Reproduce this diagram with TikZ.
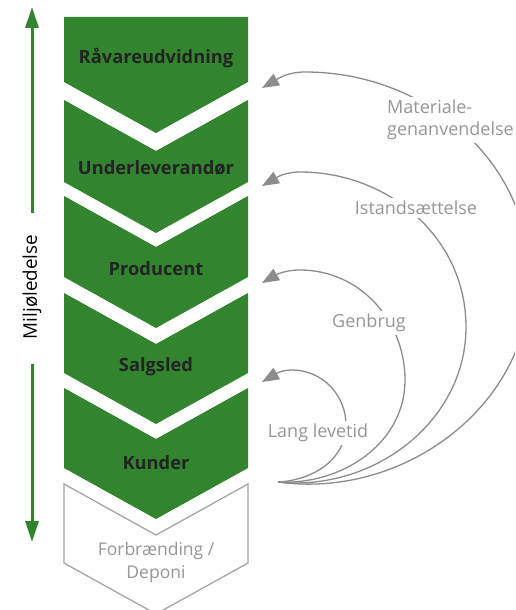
\documentclass[tikz,border=0pt]{standalone}
\usepackage{fontspec}
\setmainfont{Open Sans}
\usetikzlibrary{arrows.meta}
\definecolor{chgreen}{RGB}{50,132,46}
\definecolor{curvegray}{RGB}{140,140,140}
\definecolor{labelgray}{RGB}{150,150,150}
\definecolor{outlinegray}{RGB}{165,165,165}
\definecolor{boxtext}{RGB}{35,35,35}
\begin{document}
\begin{tikzpicture}[x=1pt,y=-1pt,
  chev/.style={fill=chgreen},
  chevout/.style={draw=outlinegray,line width=1.3pt,fill=white},
  boxlabel/.style={font=\fontsize{18.3}{22}\selectfont\bfseries,text=boxtext},
  looplabel/.style={font=\fontsize{18}{22}\selectfont,text=labelgray,fill=white,inner sep=3pt},
  loopline/.style={draw=curvegray,line width=1.3pt,-{Triangle[length=17pt,width=13pt]}},
  axis/.style={draw=chgreen,line width=3pt,-{Triangle[length=21pt,width=13pt]}}
]
\clip (0,0) rectangle (515,610);
\fill[white] (0,0) rectangle (515,610);
% chevrons
\path[chev] (64,17) -- (248,17) -- (248,82) -- (156,133) -- (64,82) -- cycle;
\path[chev] (64,100) -- (156,151) -- (248,100) -- (248,182) -- (156,233) -- (64,182) -- cycle;
\path[chev] (64,196) -- (156,247) -- (248,196) -- (248,277) -- (156,328) -- (64,277) -- cycle;
\path[chev] (64,293) -- (156,344) -- (248,293) -- (248,373) -- (156,424) -- (64,373) -- cycle;
\path[chev] (64,388) -- (156,439) -- (248,388) -- (248,468) -- (156,519) -- (64,468) -- cycle;
\path[chevout] (64,484) -- (156,535) -- (248,484) -- (248,563) -- (156,614) -- (64,563) -- cycle;
% labels
\node[boxlabel] (raw) at (156,58) {Råvareudvidning};
\node[boxlabel] (sub) at (156,168) {Underleverandør};
\node[boxlabel] (prod) at (156,269) {Producent};
\node[boxlabel] (sales) at (156,367) {Salgsled};
\node[boxlabel] (cust) at (156,463) {Kunder};
\node[font=\fontsize{17.5}{23}\selectfont,text=labelgray,align=center] (waste) at (156,562) {Forbrænding /\\Deponi};
% left axis
\node[rotate=90,font=\fontsize{18.8}{22}\selectfont,text=black] (env) at (32,287) {Miljøledelse};
\coordinate (up0) at (32,213);
\coordinate (up1) at (32,7);
\coordinate (dn0) at (32,364);
\coordinate (dn1) at (32,542);
\draw[axis] (up0) -- (up1);
\draw[axis] (dn0) -- (dn1);
% loops
\coordinate (s) at (278,482);
\coordinate (r1) at (346,425); \coordinate (t1) at (292,370); \coordinate (a1) at (262,382);
\coordinate (r2) at (405,380); \coordinate (t2) at (300,270); \coordinate (a2) at (262,283);
\coordinate (r3) at (466,327); \coordinate (t3) at (300,172); \coordinate (a3) at (262,186);
\coordinate (r4) at (530,280); \coordinate (t4) at (305,72);  \coordinate (a4) at (262,88);
\path[loopline] (s) to[out=3,in=-90] (r1) to[out=90,in=0] (t1) to[out=180,in=30] (a1);
\path[loopline] (s) to[out=-3,in=-90] (r2) to[out=90,in=0] (t2) to[out=180,in=30] (a2);
\path[loopline] (s) to[out=-6,in=-90] (r3) to[out=90,in=0] (t3) to[out=180,in=30] (a3);
\path[loopline] (s) to[out=-8,in=-90] (r4) to[out=90,in=0] (t4) to[out=180,in=30] (a4);
\node[looplabel] (lang) at (318,433) {Lang levetid};
\node[looplabel] (genbrug) at (369,323) {Genbrug};
\node[looplabel] (istand) at (416,208) {Istandsættelse};
\node[looplabel,align=left,anchor=west] (mat) at (384,120) {Materiale-\\genanvendelse};
\end{tikzpicture}
\end{document}
